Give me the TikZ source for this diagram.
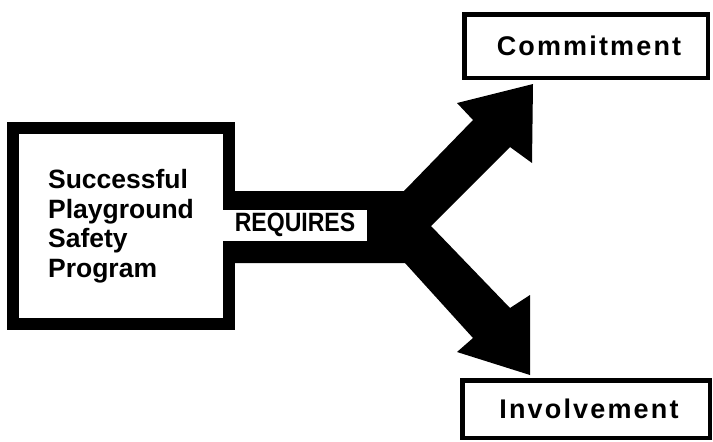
\documentclass[tikz,border=0pt]{standalone}
\usepackage{fontspec}
\usepackage{graphicx}
\setmainfont{Liberation Sans}
\tikzset{
  progbox/.style={draw=black, line width=12pt, minimum width=216pt, minimum height=196pt,
    inner sep=0pt, align=left, font=\bfseries\fontsize{26.5}{29.5}\selectfont},
  goalbox/.style={draw=black, line width=4.5pt, inner sep=0pt,
    font=\bfseries\addfontfeatures{LetterSpace=8}\fontsize{27}{27}\selectfont},
  reqlabel/.style={fill=white, inner sep=0pt, minimum width=144pt, minimum height=31pt,
    font=\bfseries\fontsize{26.5}{26.5}\selectfont},
  fatarrow/.style={fill=black}
}
\begin{document}
\begin{tikzpicture}[x=1pt,y=-1pt]
\useasboundingbox (0,0) rectangle (713,442);
\node[progbox] (prog) at (121,226) {Successful\\Playground\\Safety\\Program};
\node[goalbox, minimum width=243.5pt, minimum height=63.5pt] (commit) at (586,46) {\hspace{6pt}Commitment};
\node[goalbox, minimum width=247.5pt, minimum height=57.5pt] (invol) at (586,409) {\hspace{6pt}Involvement};
% fork
\coordinate (barTop) at (prog.east |- 0,191);
\coordinate (barBot) at (prog.east |- 0,263);
\coordinate (fork) at (431,226);
\fill[fatarrow] (barTop) -- (404,191) -- (473,120) -- (457,103) -- (533,84) -- (532,163)
  -- (510,147) -- (fork) -- (510,308) -- (530,295) -- (530,375) -- (457,352)
  -- (473,338) -- (405,263) -- (barBot) -- cycle;
\node[reqlabel] (req) at (295,225) {\scalebox{0.87}[1]{REQUIRES}\hspace{12pt}};
\end{tikzpicture}
\end{document}
